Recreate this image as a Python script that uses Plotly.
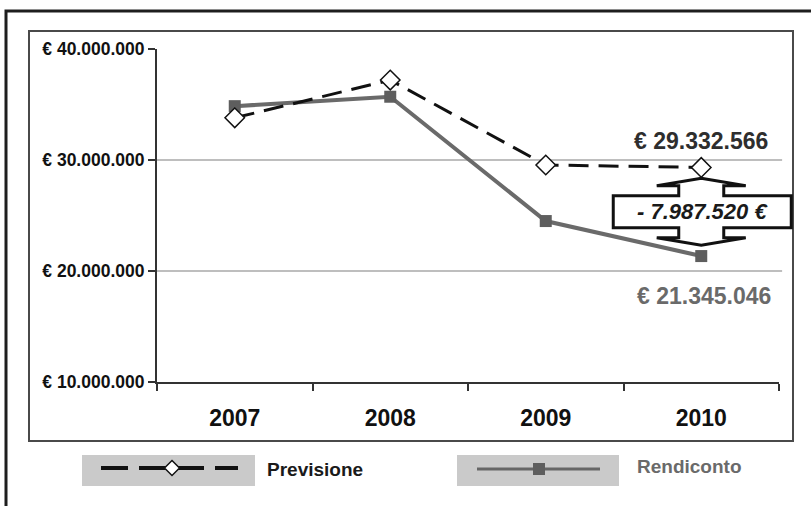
import plotly.graph_objects as go

# ---- data ----
years = ["2007", "2008", "2009", "2010"]
previsione = [33800000, 37200000, 29550000, 29332566]
rendiconto = [34850000, 35700000, 24500000, 21345046]
y_ticks = [10000000, 20000000, 30000000, 40000000]

def eur(v):
    return "€ " + f"{v:,}".replace(",", ".")

# ---- layout geometry (pixels) ----
W, H = 811, 506
L, R, T, B = 157, 779, 49, 382
FONT = "Liberation Sans, Arial, sans-serif"

def px(x):
    return (x - L) / (R - L)

def py(y):
    return (B - y) / (B - T)

xi = list(range(len(years)))
n = len(years)

def cat2paper(c):
    return (c + 0.5) / n

fig = go.Figure()
fig.add_trace(go.Scatter(
    x=xi, y=rendiconto, mode="lines+markers", name="Rendiconto",
    line=dict(color="#6a6a6a", width=4),
    marker=dict(symbol="square", size=12, color="#5e5e5e"),
    showlegend=False, cliponaxis=False))
fig.add_trace(go.Scatter(
    x=xi, y=previsione, mode="lines+markers", name="Previsione",
    line=dict(color="#111111", width=3, dash="20px,10px"),
    marker=dict(symbol="diamond", size=15, color="white",
                line=dict(color="#111111", width=1.5)),
    showlegend=False, cliponaxis=False))

shapes = []
# gridlines at interior ticks
for v in y_ticks[1:-1]:
    shapes.append(dict(type="line", xref="paper", yref="y", x0=0, x1=1.005,
                       y0=v, y1=v, line=dict(color="#a8a8a8", width=1.5),
                       layer="below"))

# outer frame (top and left visible)
shapes.append(dict(type="path", xref="paper", yref="paper",
                   path=f"M {px(6)},{py(520)} L {px(6)},{py(11)} L {px(830)},{py(11)}",
                   line=dict(color="#1e1e1e", width=3)))
# inner frame
shapes.append(dict(type="rect", xref="paper", yref="paper",
                   x0=px(29), x1=px(793), y0=py(441), y1=py(31),
                   line=dict(color="#4a4a4a", width=2)))

# callout arrow (up-down arrow callout) around 2010 gap
i = n - 1
top, bot = previsione[i], rendiconto[i]
mid = (top + bot) / 2
unit = (y_ticks[-1] - y_ticks[0]) / (B - T)  # value per pixel
bx = (R - L) / n                              # pixels per category
hb, tp, bh = 26 * unit, 33.5 * unit, 16 * unit
hw, sw = 44.5 / bx, 22.5 / bx
bl, br = 88 / bx, 90 / bx
c = i
pts = [
    (c, mid + tp), (c + hw, mid + hb), (c + sw, mid + hb), (c + sw, mid + bh),
    (c + br, mid + bh), (c + br, mid - bh), (c + sw, mid - bh), (c + sw, mid - hb),
    (c + hw, mid - hb), (c, mid - tp), (c - hw, mid - hb), (c - sw, mid - hb),
    (c - sw, mid - bh), (c - bl, mid - bh), (c - bl, mid + bh), (c - sw, mid + bh),
    (c - sw, mid + hb), (c - hw, mid + hb)]
path = "M " + " L ".join(f"{cat2paper(x)},{y}" for x, y in pts) + " Z"
shapes.append(dict(type="path", xref="paper", yref="y", path=path,
                   fillcolor="white", line=dict(color="#111111", width=3),
                   layer="above"))

# legend boxes
shapes.append(dict(type="rect", xref="paper", yref="paper",
                   x0=px(82), x1=px(255), y0=py(486), y1=py(455),
                   fillcolor="#cacaca", line=dict(width=0), layer="below"))
shapes.append(dict(type="rect", xref="paper", yref="paper",
                   x0=px(457), x1=px(619), y0=py(486), y1=py(455),
                   fillcolor="#cacaca", line=dict(width=0), layer="below"))
# legend samples
shapes.append(dict(type="line", xref="paper", yref="paper",
                   x0=px(101), x1=px(238), y0=py(468), y1=py(468),
                   line=dict(color="#111111", width=4, dash="27px,11px")))
dcx, dcy, dr = 172, 468, 7.5
shapes.append(dict(type="path", xref="paper", yref="paper",
                   path=(f"M {px(dcx)},{py(dcy-dr)} L {px(dcx+dr)},{py(dcy)} "
                         f"L {px(dcx)},{py(dcy+dr)} L {px(dcx-dr)},{py(dcy)} Z"),
                   fillcolor="white", line=dict(color="#111111", width=1.5)))
shapes.append(dict(type="line", xref="paper", yref="paper",
                   x0=px(477), x1=px(600), y0=py(469), y1=py(469),
                   line=dict(color="#666666", width=3)))
shapes.append(dict(type="rect", xref="paper", yref="paper",
                   x0=px(533), x1=px(545), y0=py(475), y1=py(463),
                   fillcolor="#5e5e5e", line=dict(width=0)))

annotations = [
    dict(x=cat2paper(i), y=top + 2.38e6, text=eur(top), showarrow=False,
         xref="paper", yref="y",
         font=dict(family=FONT, size=23, color="#2e2e2e", weight="bold"),
         xanchor="center", yanchor="middle"),
    dict(x=cat2paper(i + 0.02), y=bot - 3.6e6, text=eur(bot), showarrow=False,
         xref="paper", yref="y",
         font=dict(family=FONT, size=23, color="#6a6a6a", weight="bold"),
         xanchor="center", yanchor="middle"),
    dict(x=cat2paper(i + 0.01), y=mid, text="<i>- " + eur(top - bot)[2:] + " €</i>",
         showarrow=False, xref="paper", yref="y",
         font=dict(family=FONT, size=22, color="#1a1a1a", weight="bold"),
         xanchor="center", yanchor="middle"),
    dict(x=px(265), y=py(469), text="Previsione", showarrow=False,
         xref="paper", yref="paper",
         font=dict(family=FONT, size=19, color="#1a1a1a", weight="bold"),
         xanchor="left", yanchor="middle"),
    dict(x=px(635), y=py(467), text="Rendiconto", showarrow=False,
         xref="paper", yref="paper",
         font=dict(family=FONT, size=19, color="#6a6a6a", weight="bold"),
         xanchor="left", yanchor="middle"),
]

fig.update_layout(
    width=W, height=H,
    margin=dict(l=L, r=W - R, t=T, b=H - B, pad=0),
    paper_bgcolor="white", plot_bgcolor="white",
    shapes=shapes, annotations=annotations,
    xaxis=dict(range=[-0.5, n - 0.5], tickmode="array",
               tickvals=xi, ticktext=years, ticks="", showgrid=False,
               zeroline=False, showline=True, linecolor="#333333", linewidth=2,
               tickfont=dict(family=FONT, size=23, color="#111111", weight="bold"),
               ticklabelstandoff=14,
               minor=dict(tickmode="array",
                          tickvals=[k - 0.5 for k in range(n + 1)],
                          ticks="outside", ticklen=7, tickwidth=2,
                          tickcolor="#333333", showgrid=False)),
    yaxis=dict(range=[y_ticks[0], y_ticks[-1]], tickmode="array",
               tickvals=y_ticks, ticktext=[eur(v) for v in y_ticks],
               ticks="outside", ticklen=7, tickwidth=2, tickcolor="#333333",
               showgrid=False, zeroline=False, showline=True,
               linecolor="#333333", linewidth=2,
               tickfont=dict(family=FONT, size=17.5, color="#111111", weight="bold")),
)

fig.write_html("out.html", config={"displayModeBar": False},
               post_script="document.body.style.margin='0';document.body.style.overflow='hidden';")
